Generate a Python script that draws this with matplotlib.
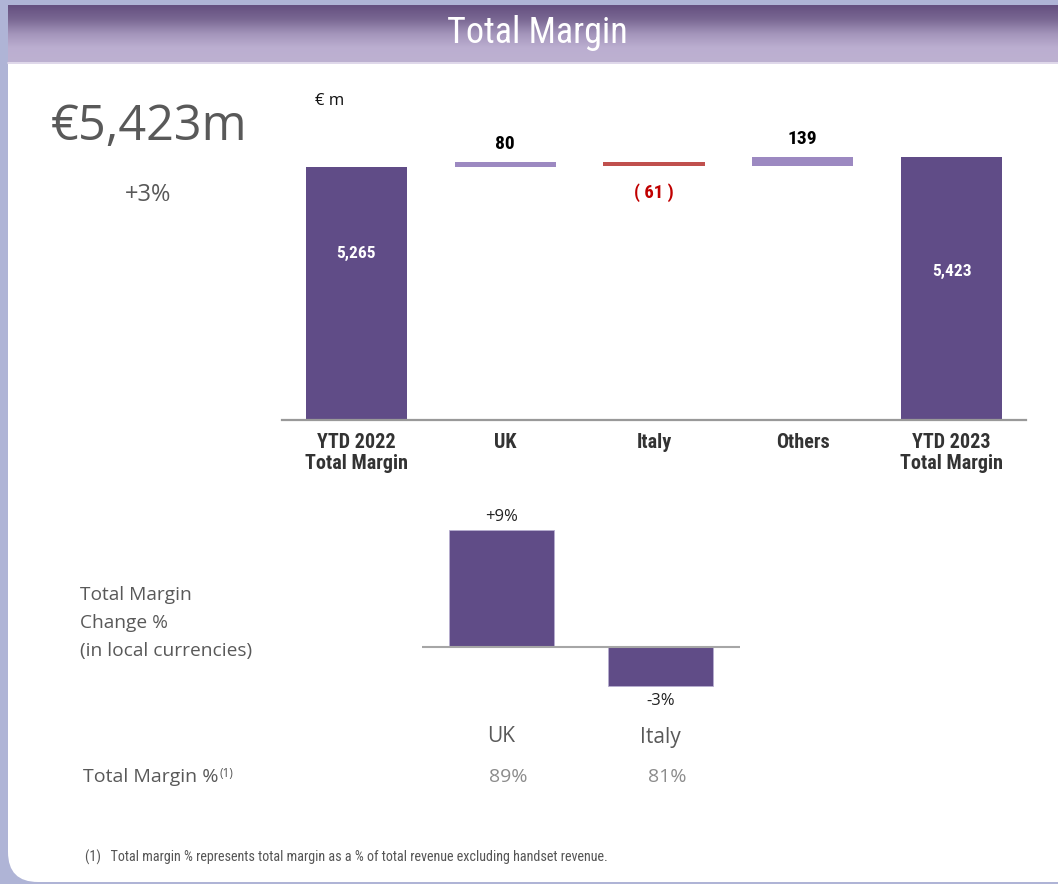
import numpy as np
import matplotlib
matplotlib.use("Agg")
import matplotlib.pyplot as plt
import matplotlib.patches as mpatches
from matplotlib import font_manager as fm
from matplotlib.colors import LinearSegmentedColormap
from matplotlib.transforms import blended_transform_factory

W, H = 1058, 884

_have = {f.name for f in fm.fontManager.ttflist}


def pick(*names):
    for n in names:
        if n in _have:
            return [n, "DejaVu Sans"]
    return ["DejaVu Sans"]


NARROW = pick("Ubuntu Condensed", "Roboto Condensed", "PT Sans Narrow", "Liberation Sans Narrow", "Liberation Sans")
NARROW_B = pick("Roboto Condensed", "Fira Sans Condensed", "PT Sans Narrow", "Liberation Sans")
SANS = pick("Open Sans", "Noto Sans")

# ---- data ----
wf_categories = ["YTD 2022\nTotal Margin", "UK", "Italy", "Others", "YTD 2023\nTotal Margin"]
wf_values = [5265, 80, -61, 139, 5423]
wf_labels = ["5,265", "80", "( 61 )", "139", "5,423"]
wf_is_total = [True, False, False, False, True]

chg_categories = ["UK", "Italy"]
chg_values = [9, -3]
chg_labels = ["+9%", "-3%"]
margin_pct = ["89%", "81%"]

headline = "€5,423m"
headline_chg = "+3%"

DARK = "#604C87"
LIGHT = "#9C89C1"
RED = "#C0504D"


def px(x0, y0, x1, y1):
    return [x0 / W, 1 - y1 / H, (x1 - x0) / W, (y1 - y0) / H]


fig = plt.figure(figsize=(W / 100, H / 100), dpi=100)
fig.patch.set_facecolor("#AFB4D6")

# card + header
bg = fig.add_axes([0, 0, 1, 1])
bg.axis("off")
bg.add_patch(mpatches.FancyBboxPatch((8, 5), W + 40, H - 5 - 2, boxstyle="round,pad=0,rounding_size=30",
                                     facecolor="white", edgecolor="none"))
cmap = LinearSegmentedColormap.from_list("hdr", ["#655080", "#7A6893", "#A394BA", "#BBAED0", "#BDB1D1"])
grad = np.linspace(0, 1, 64).reshape(-1, 1)
bg.imshow(grad, cmap=cmap, aspect="auto", extent=(8, W, 62, 5), zorder=2)
bg.plot([8, W], [62.5, 62.5], color="#D9D1E6", lw=1.2, zorder=3)
bg.set_xlim(0, W)
bg.set_ylim(H, 0)
bg.text(537, 33, "Total Margin", color="white", fontsize=26, family=NARROW,
        ha="center", va="center", zorder=4)

# headline
fig.text(149 / W, 1 - 127 / H, headline, fontsize=35, color="#595959", family=SANS,
         ha="center", va="center")
fig.text(148 / W, 1 - 195 / H, headline_chg, fontsize=17, color="#595959", family=SANS,
         ha="center", va="center")
fig.text(315 / W, 1 - 101 / H, "€ m", fontsize=12, color="#111111", family=SANS,
         ha="left", va="center")

# ---- waterfall ----
ax = fig.add_axes(px(282, 130, 1026, 420))
x = np.arange(len(wf_values))
running = 0
bottoms, heights = [], []
for v, tot in zip(wf_values, wf_is_total):
    if tot:
        bottoms.append(0)
        heights.append(v)
        running = v
    else:
        bottoms.append(running)
        heights.append(v)
        running += v
colors = []
for v, tot in zip(wf_values, wf_is_total):
    colors.append(DARK if tot else (LIGHT if v > 0 else RED))
ax.bar(x, heights, bottom=bottoms, width=0.68, color=colors)
ax.set_xlim(-0.5, len(x) - 0.5)
ax.set_ylim(1270, 5850)

inside_offsets = {0: -86, 4: -114}
for i, (b, h, lab, tot) in enumerate(zip(bottoms, heights, wf_labels, wf_is_total)):
    top = b + h
    if tot:
        ax.annotate(lab, (i, top), xytext=(0, inside_offsets[i]), textcoords="offset pixels",
                    ha="center", va="center", fontsize=12.5, color="white", family=NARROW_B, fontweight="bold")
    elif h > 0:
        ax.annotate(lab, (i, top), xytext=(0, 18), textcoords="offset pixels",
                    ha="center", va="center", fontsize=14, color="black", family=NARROW_B, fontweight="bold")
    else:
        ax.annotate(lab, (i, b + h), xytext=(0, -27), textcoords="offset pixels",
                    ha="center", va="center", fontsize=13.5, color="#C00000", family=NARROW_B, fontweight="bold")

ax.set_xticks(x)
ax.set_xticklabels(wf_categories, fontsize=14.5, fontweight="bold", color="#333333",
                   family=NARROW_B, linespacing=1.15)
ax.tick_params(axis="x", length=0, pad=9)
ax.set_yticks([])
for s in ["top", "right", "left"]:
    ax.spines[s].set_visible(False)
ax.spines["bottom"].set_color("#999999")
ax.spines["bottom"].set_linewidth(1.6)
ax.patch.set_alpha(0)

# ---- change % chart ----
ax2 = fig.add_axes(px(422, 517, 740, 699))
x2 = np.arange(len(chg_values))
ax2.bar(x2, chg_values, width=0.66, color=DARK, edgecolor="#B7AED0", linewidth=0.6)
ax2.axhline(0, color="#A6A6A6", lw=1.5)
ax2.set_xlim(-0.5, len(x2) - 0.5)
ax2.set_ylim(-4, 10)
ax2.axis("off")
for i, (v, lab) in enumerate(zip(chg_values, chg_labels)):
    off = 13 if v > 0 else -15
    ax2.annotate(lab, (i, v), xytext=(0, off), textcoords="offset pixels",
                 ha="center", va="center", fontsize=12, color="#222222", family=SANS)

tr = blended_transform_factory(ax2.transData, fig.transFigure)
for i, (c, m) in enumerate(zip(chg_categories, margin_pct)):
    fig.text(i, 1 - 737 / H, c, transform=tr, ha="center", va="center",
             fontsize=15, color="#595959", family=SANS)
    fig.text(i + 0.04, 1 - 777 / H, m, transform=tr, ha="center", va="center",
             fontsize=14, color="#8C8C8C", family=SANS)

fig.text(80 / W, 1 - 623 / H, "Total Margin\nChange %\n(in local currencies)", fontsize=13.8,
         color="#595959", family=SANS, ha="left", va="center", linespacing=1.72)
t = fig.text(83 / W, 1 - 777 / H, "Total Margin %", fontsize=14, color="#595959",
             family=SANS, ha="left", va="center")
bg.annotate("(1)", xy=(1, 1), xycoords=t, xytext=(1, 1), textcoords="offset pixels",
            ha="left", va="top", fontsize=8.5, color="#595959", family=SANS)
fig.text(85 / W, 1 - 857 / H,
         "(1)   Total margin % represents total margin as a % of total revenue excluding handset revenue.",
         fontsize=10.2, color="#555555", family=NARROW, ha="left", va="center")

fig.savefig("out.png", dpi=100)
